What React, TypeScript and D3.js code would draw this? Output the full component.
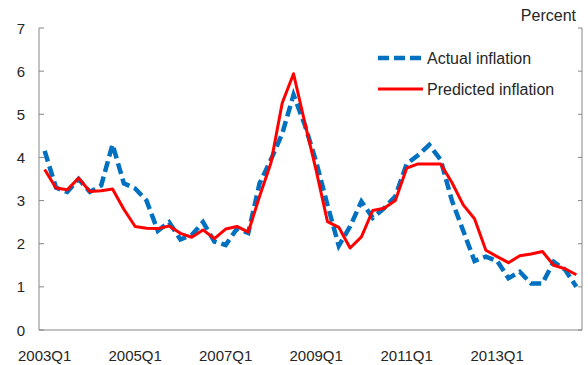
import React from "react";
import * as d3 from "d3";

const quarters: string[] = [
  "2003Q1","2003Q2","2003Q3","2003Q4","2004Q1","2004Q2","2004Q3","2004Q4",
  "2005Q1","2005Q2","2005Q3","2005Q4","2006Q1","2006Q2","2006Q3","2006Q4",
  "2007Q1","2007Q2","2007Q3","2007Q4","2008Q1","2008Q2","2008Q3","2008Q4",
  "2009Q1","2009Q2","2009Q3","2009Q4","2010Q1","2010Q2","2010Q3","2010Q4",
  "2011Q1","2011Q2","2011Q3","2011Q4","2012Q1","2012Q2","2012Q3","2012Q4",
  "2013Q1","2013Q2","2013Q3","2013Q4","2014Q1","2014Q2","2014Q3","2014Q4",
];

const actual: number[] = [
  4.15, 3.3, 3.2, 3.5, 3.2, 3.35, 4.3, 3.4, 3.28, 3.0,
  2.3, 2.5, 2.1, 2.2, 2.5, 2.05, 1.97, 2.35, 2.25, 3.4,
  3.95, 4.55, 5.45, 4.75, 3.9, 2.9, 1.95, 2.4, 2.98, 2.6,
  2.82, 3.1, 3.85, 4.05, 4.29, 3.95, 3.0, 2.3, 1.6, 1.7,
  1.6, 1.2, 1.35, 1.08, 1.08, 1.58, 1.4, 1.0,
];

const predicted: number[] = [
  3.72, 3.29, 3.25, 3.52, 3.21, 3.23, 3.27, 2.8, 2.4, 2.36,
  2.35, 2.41, 2.24, 2.15, 2.32, 2.12, 2.34, 2.4, 2.27, 3.1,
  3.87, 5.26, 5.94, 4.8, 3.7, 2.51, 2.38, 1.9, 2.16, 2.77,
  2.82, 3.0, 3.75, 3.85, 3.85, 3.85, 3.42, 2.9, 2.58, 1.85,
  1.7, 1.56, 1.72, 1.76, 1.82, 1.5, 1.42, 1.28,
];

const xTickLabels: string[] = ["2003Q1", "2005Q1", "2007Q1", "2009Q1", "2011Q1", "2013Q1"];
const yTicks: number[] = [0, 1, 2, 3, 4, 5, 6, 7];
const seriesNames: string[] = ["Actual inflation", "Predicted inflation"];

const W = 588;
const H = 365;
const left = 39;
const right = 582;
const top = 28;
const bottom = 330;
const font = "'Liberation Sans', Arial, sans-serif";
const textColor = "#262626";
const axisColor = "#868686";
const blue = "#0070C0";
const red = "#FF0000";

export default function App() {
  const x = d3.scaleBand<string>().domain(quarters).range([left, right]).padding(0);
  const y = d3.scaleLinear().domain([0, 7]).range([bottom, top]);
  const cx = (q: string) => (x(q) as number) + x.bandwidth() / 2;

  const line = d3
    .line<number>()
    .x((_, i) => cx(quarters[i]))
    .y((v) => y(v));

  return (
    <svg
      width={W}
      height={H}
      style={{ position: "absolute", left: 0, top: 0, background: "#fff" }}
      fontFamily={font}
    >
      {/* axes */}
      <line x1={left} x2={left} y1={y(7)} y2={y(0)} stroke={axisColor} strokeWidth={1} />
      <line x1={right} x2={right} y1={y(7)} y2={y(0)} stroke={axisColor} strokeWidth={1} />
      <line x1={left} x2={right} y1={y(0)} y2={y(0)} stroke={axisColor} strokeWidth={1} />
      {yTicks.map((t) => (
        <g key={t}>
          <line x1={left} x2={left + 5} y1={y(t)} y2={y(t)} stroke={axisColor} />
          <line x1={right - 4} x2={right} y1={y(t)} y2={y(t)} stroke={axisColor} />
          <text
            x={25}
            y={y(t)}
            textAnchor="end"
            dominantBaseline="central"
            fontSize={15}
            fill={textColor}
          >
            {t}
          </text>
        </g>
      ))}
      {xTickLabels.map((q) => (
        <text key={q} x={cx(q)} y={355} textAnchor="middle" dominantBaseline="central" fontSize={15} fill={textColor}>
          {q}
        </text>
      ))}
      <text x={576} y={21} textAnchor="end" fontSize={16} fill={textColor}>
        Percent
      </text>

      {/* series */}
      <path d={line(actual) || ""} fill="none" stroke={blue} strokeWidth={4.5} strokeDasharray="11,5" />
      <path d={line(predicted) || ""} fill="none" stroke={red} strokeWidth={3} strokeLinejoin="round" />

      {/* legend */}
      <line x1={378} x2={423} y1={58} y2={58} stroke={blue} strokeWidth={4.5} strokeDasharray="11,5" />
      <text x={427} y={58} dominantBaseline="central" fontSize={16} fill={textColor}>
        {seriesNames[0]}
      </text>
      <line x1={378} x2={423} y1={89} y2={89} stroke={red} strokeWidth={3} />
      <text x={427} y={89} dominantBaseline="central" fontSize={16} fill={textColor}>
        {seriesNames[1]}
      </text>
    </svg>
  );
}
